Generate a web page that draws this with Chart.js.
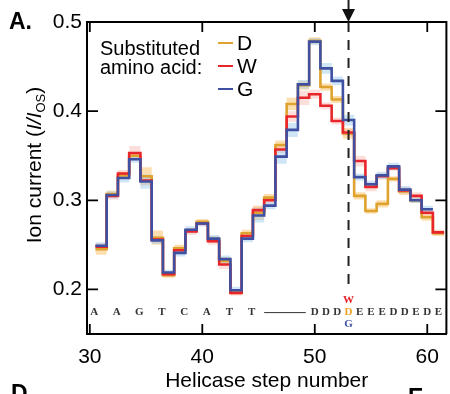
<!DOCTYPE html>
<html>
<head>
<meta charset="utf-8">
<script src="https://cdn.jsdelivr.net/npm/chart.js@4"></script>
<style>
  html, body { margin: 0; padding: 0; background: #fff; }
  #wrap { width: 450px; height: 394px; position: relative; }
</style>
</head>
<body>
<div id="wrap"><canvas id="c" width="450" height="394"></canvas></div>
<script>
const FONT = '"Liberation Sans", Arial, Helvetica, sans-serif';

// helicase steps
const stepsDW = [31,32,33,34,35,36,37,38,39,40,41,42,43,44,45,46,47,48,49,50,51,52,53,54,55,56,57,58,59,60,61];
const stepsG = stepsDW.slice(0, 30);

// ion current, I/Ios
const valD = [0.245,0.307,0.328,0.350,0.327,0.258,0.216,0.246,0.266,0.276,0.256,0.232,0.197,0.263,0.286,0.303,0.362,0.408,0.429,0.479,0.427,0.413,0.375,0.305,0.288,0.296,0.324,0.310,0.300,0.281,0.263];
const valW = [0.248,0.305,0.330,0.353,0.322,0.256,0.217,0.244,0.265,0.274,0.254,0.228,0.196,0.260,0.289,0.300,0.357,0.394,0.415,0.419,0.406,0.389,0.376,0.344,0.315,0.327,0.336,0.311,0.305,0.286,0.264];
const valG = [0.249,0.306,0.325,0.346,0.321,0.255,0.219,0.241,0.267,0.274,0.257,0.234,0.199,0.257,0.283,0.294,0.349,0.379,0.430,0.478,0.448,0.434,0.390,0.326,0.318,0.328,0.338,0.312,0.300,0.290];

// half widths of the shaded bands
const errD = [0.006,0.004,0.004,0.004,0.010,0.008,0.003,0.004,0.003,0.003,0.004,0.004,0.003,0.004,0.008,0.004,0.005,0.007,0.005,0.004,0.004,0.004,0.006,0.004,0.003,0.004,0.003,0.004,0.003,0.004,0.003];
const errW = [0.004,0.004,0.004,0.008,0.005,0.004,0.003,0.004,0.004,0.003,0.004,0.005,0.003,0.004,0.004,0.004,0.004,0.006,0.008,0.005,0.004,0.004,0.004,0.006,0.005,0.004,0.003,0.004,0.004,0.004,0.003];
const errG = [0.004,0.004,0.005,0.004,0.008,0.004,0.003,0.004,0.004,0.003,0.004,0.004,0.004,0.004,0.008,0.004,0.008,0.008,0.005,0.004,0.006,0.005,0.006,0.004,0.004,0.004,0.004,0.004,0.003,0.004];

const xTicks = [30, 40, 50, 60];
const yTicks = [0.2, 0.3, 0.4, 0.5];

const seqLeft = ["A","A","G","T","C","A","T","T"];
const seqRight = ["D","D","D","D","E","E","E","D","D","E","D","E"]; // steps 50..61
const substStep = 53;

const COL = { D: "#dea32e", W: "#e8252b", G: "#3f50a2" };
const BAND = { D: "rgba(252,196,110,0.55)", W: "rgba(248,170,160,0.38)", G: "rgba(160,206,240,0.5)" };

// stepped line points: each value covers [step-0.5, step+0.5]
function stepPts(steps, vals, off) {
  const pts = steps.map((s, i) => ({ x: s - 0.5, y: vals[i] + (off ? off[i] : 0) }));
  const n = steps.length - 1;
  pts.push({ x: steps[n] + 0.5, y: vals[n] + (off ? off[n] : 0) });
  return pts;
}
const neg = a => a.map(v => -v);

function series(key, steps, vals, err, ord) {
  return [
    { data: stepPts(steps, vals, err), stepped: true, borderWidth: 0, pointRadius: 0, fill: false, order: 10 + ord },
    { data: stepPts(steps, vals, neg(err)), stepped: true, borderWidth: 0, pointRadius: 0, fill: "-1", backgroundColor: BAND[key], order: 10 + ord },
    { data: stepPts(steps, vals), stepped: true, borderColor: COL[key], borderWidth: 2.6, pointRadius: 0, fill: false, order: ord }
  ];
}

const datasets = [
  ...series("D", stepsDW, valD, errD, 3),
  ...series("W", stepsDW, valW, errW, 2),
  ...series("G", stepsG, valG, errG, 1)
];

const extras = {
  id: "extras",
  afterDraw(chart) {
    const { ctx, chartArea: a, scales: { x, y } } = chart;
    ctx.save();
    // frame top/right
    ctx.strokeStyle = "#000";
    ctx.lineWidth = 2;
    ctx.beginPath();
    ctx.moveTo(a.left - 1, a.top); ctx.lineTo(a.right, a.top); ctx.lineTo(a.right, a.bottom);
    ctx.stroke();
    // inward ticks on all sides
    ctx.lineWidth = 1.8;
    ctx.beginPath();
    xTicks.forEach(v => {
      const px = x.getPixelForValue(v);
      ctx.moveTo(px, a.bottom); ctx.lineTo(px, a.bottom - 10);
      ctx.moveTo(px, a.top); ctx.lineTo(px, a.top + 10);
    });
    yTicks.forEach(v => {
      const py = y.getPixelForValue(v);
      ctx.moveTo(a.left, py); ctx.lineTo(a.left + 11, py);
      ctx.moveTo(a.right, py); ctx.lineTo(a.right - 11, py);
    });
    ctx.stroke();

    // dashed marker at substituted step
    const mx = x.getPixelForValue(substStep);
    ctx.strokeStyle = "#222";
    ctx.lineWidth = 2;
    ctx.setLineDash([10, 8]);
    ctx.beginPath();
    ctx.moveTo(mx, a.top); ctx.lineTo(mx, y.getPixelForValue(0.205));
    ctx.stroke();
    ctx.setLineDash([]);
    // arrow above
    ctx.fillStyle = "#111";
    ctx.beginPath();
    ctx.moveTo(mx, 0); ctx.lineTo(mx, 12);
    ctx.stroke();
    ctx.beginPath();
    ctx.moveTo(mx - 6.5, 9); ctx.lineTo(mx + 6.5, 9); ctx.lineTo(mx, a.top); ctx.closePath();
    ctx.fill();

    // sequence letters
    const sy = y.getPixelForValue(0.174);
    ctx.font = "bold 11px 'Liberation Serif', 'DejaVu Serif', serif";
    ctx.textAlign = "center";
    ctx.textBaseline = "middle";
    ctx.fillStyle = "#333";
    seqLeft.forEach((ch, i) => ctx.fillText(ch, x.getPixelForValue(30.4 + 2 * i), sy));
    ctx.strokeStyle = "#333";
    ctx.lineWidth = 1;
    ctx.beginPath();
    ctx.moveTo(x.getPixelForValue(45.5), sy); ctx.lineTo(x.getPixelForValue(49.2), sy);
    ctx.stroke();
    seqRight.forEach((ch, i) => {
      const s = 50 + i;
      ctx.fillStyle = s === substStep ? "#f0a020" : "#333";
      ctx.fillText(ch, x.getPixelForValue(s), sy);
    });
    ctx.fillStyle = COL.W;
    ctx.fillText("W", mx, sy - 12);
    ctx.fillStyle = COL.G;
    ctx.fillText("G", mx, sy + 12);

    // legend
    ctx.fillStyle = "#000";
    ctx.textAlign = "left";
    ctx.textBaseline = "alphabetic";
    ctx.font = "20px " + FONT;
    ctx.fillText("Substituted", 100, 55);
    ctx.fillText("amino acid:", 100, 74);
    [["D", 43], ["W", 66], ["G", 89]].forEach(([k, ly]) => {
      ctx.strokeStyle = COL[k];
      ctx.lineWidth = 2;
      ctx.beginPath(); ctx.moveTo(218, ly); ctx.lineTo(233, ly); ctx.stroke();
      ctx.fillStyle = "#000";
      ctx.font = "21px " + FONT;
      ctx.textBaseline = "middle";
      ctx.fillText(k, 237, ly + 1);
    });

    // y axis title with italic and subscript
    ctx.save();
    ctx.translate(41, 165);
    ctx.rotate(-Math.PI / 2);
    ctx.textBaseline = "alphabetic";
    ctx.textAlign = "left";
    const parts = [
      ["Ion current (", "21px " + FONT, 0],
      ["I/I", "italic 21px " + FONT, 0],
      ["OS", "13px " + FONT, 4],
      [")", "21px " + FONT, 0]
    ];
    let total = 0;
    parts.forEach(p => { ctx.font = p[1]; total += ctx.measureText(p[0]).width; });
    let px = -total / 2;
    parts.forEach(p => { ctx.font = p[1]; ctx.fillText(p[0], px, p[2]); px += ctx.measureText(p[0]).width; });
    ctx.restore();

    // panel letters
    ctx.font = "bold 23px " + FONT;
    ctx.fillStyle = "#000";
    ctx.textBaseline = "alphabetic";
    ctx.fillText("A.", 9, 29);
    ctx.fillText("D", 11, 401);
    ctx.fillText("E", 408, 405);
    ctx.restore();
  }
};

new Chart(document.getElementById("c"), {
  type: "line",
  data: { datasets },
  options: {
    responsive: false,
    animation: false,
    layout: { padding: { left: 0, top: 22, right: 1, bottom: 0 } },
    plugins: { legend: { display: false }, tooltip: { enabled: false } },
    scales: {
      x: {
        type: "linear", min: 29.75, max: 61.7,
        afterBuildTicks: s => { s.ticks = xTicks.map(v => ({ value: v })); },
        afterFit: s => { s.height = 60; },
        grid: { display: false, drawTicks: false },
        border: { display: true, color: "#000", width: 2 },
        ticks: { font: { family: FONT, size: 21 }, color: "#000", padding: 11, maxRotation: 0 },
        title: { display: true, text: "Helicase step number", font: { family: FONT, size: 21 }, color: "#000", padding: { top: 0, bottom: 0 } }
      },
      y: {
        min: 0.15, max: 0.5,
        afterBuildTicks: s => { s.ticks = yTicks.map(v => ({ value: v })); },
        afterFit: s => { s.width = 87; },
        grid: { display: false, drawTicks: false },
        border: { display: true, color: "#000", width: 2 },
        ticks: { font: { family: FONT, size: 21 }, color: "#000", padding: 5, callback: v => v.toFixed(1) }
      }
    }
  },
  plugins: [extras]
});
</script>
</body>
</html>
